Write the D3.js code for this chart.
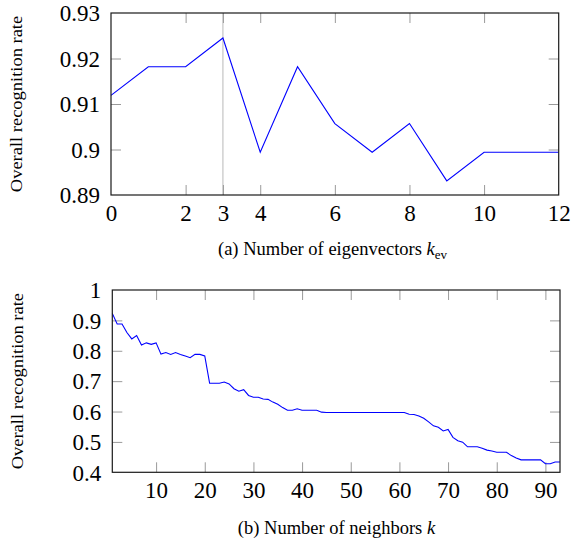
<!DOCTYPE html>
<html>
<head>
<meta charset="utf-8">
<script src="https://cdn.jsdelivr.net/npm/d3@7"></script>
<style>
  html, body { margin: 0; padding: 0; background: #fff; }
  svg { display: block; }
</style>
</head>
<body>
<svg id="chart" width="571" height="545"></svg>
<script>
// ---- Data: panel (a) ----
const eigK = [0, 1, 2, 3, 4, 5, 6, 7, 8, 9, 10, 11, 12];
const eigRate = [0.9119, 0.9182, 0.9182, 0.9245, 0.8994, 0.9182, 0.9057, 0.8994, 0.9057, 0.8931, 0.8994, 0.8994, 0.8994];
const eigXTicks = [0, 2, 3, 4, 6, 8, 10, 12];
const eigYTicks = [0.89, 0.9, 0.91, 0.92, 0.93];
const eigHighlight = [3];

// ---- Data: panel (b) ----
const nbK = [1, 2, 3, 4, 5, 6, 7, 8, 9, 10, 11, 12, 13, 14, 15, 16, 17, 18, 19, 20,
  21, 22, 23, 24, 25, 26, 27, 28, 29, 30, 31, 32, 33, 34, 35, 36, 37, 38, 39, 40,
  41, 42, 43, 44, 45, 46, 47, 48, 49, 50, 51, 52, 53, 54, 55, 56, 57, 58, 59, 60,
  61, 62, 63, 64, 65, 66, 67, 68, 69, 70, 71, 72, 73, 74, 75, 76, 77, 78, 79, 80,
  81, 82, 83, 84, 85, 86, 87, 88, 89, 90, 91, 92, 93];
const nbRate = [0.923, 0.888, 0.888, 0.860, 0.839, 0.850, 0.819, 0.826, 0.821, 0.826,
  0.789, 0.794, 0.788, 0.794, 0.788, 0.783, 0.777, 0.788, 0.788, 0.783,
  0.693, 0.693, 0.693, 0.697, 0.691, 0.675, 0.667, 0.672, 0.653, 0.647,
  0.647, 0.641, 0.640, 0.631, 0.624, 0.613, 0.604, 0.604, 0.609, 0.604,
  0.604, 0.604, 0.604, 0.598, 0.597, 0.597, 0.597, 0.597, 0.597, 0.597,
  0.597, 0.597, 0.597, 0.597, 0.597, 0.597, 0.597, 0.597, 0.597, 0.597,
  0.597, 0.591, 0.590, 0.585, 0.578, 0.566, 0.553, 0.548, 0.536, 0.541,
  0.515, 0.504, 0.499, 0.484, 0.484, 0.484, 0.479, 0.473, 0.470, 0.466,
  0.466, 0.466, 0.455, 0.447, 0.441, 0.441, 0.441, 0.441, 0.441, 0.428,
  0.428, 0.434, 0.434];
const nbXTicks = [10, 20, 30, 40, 50, 60, 70, 80, 90];
const nbYTicks = [0.4, 0.5, 0.6, 0.7, 0.8, 0.9, 1];

const yLabelText = "Overall recognition rate";

const FONT = "'Liberation Serif', 'Times New Roman', Times, 'DejaVu Serif', serif";
const svg = d3.select("#chart");
const fmt = d => String(+d.toFixed(2));
const TICK_COLOR = "#9a9a9a";
const TICK_FONT = 23;

function panel(cfg) {
  const { xs, ys, xDomain, yDomain, left, right, top, bottom, xTicks, yTicks, labelCenterX } = cfg;
  const x = d3.scaleLinear().domain(xDomain).range([left, right]);
  const y = d3.scaleLinear().domain(yDomain).range([bottom, top]);
  const g = svg.append("g");

  (cfg.highlight || []).forEach(v => {
    g.append("line")
      .attr("x1", x(v)).attr("x2", x(v))
      .attr("y1", y(yDomain[0])).attr("y2", y(yDomain[1]))
      .attr("stroke", "#b8b8b8").attr("stroke-width", 1);
  });

  const innerX = xTicks.filter(v => v > xDomain[0] && v < xDomain[1]);
  const innerY = yTicks.filter(v => v > yDomain[0] && v < yDomain[1]);

  const gb = g.append("g").attr("transform", `translate(0,${bottom})`)
    .call(d3.axisBottom(x).tickValues(xTicks).tickSizeInner(-10).tickSizeOuter(0).tickFormat(d => d));
  gb.attr("font-family", FONT);
  gb.selectAll(".tick line").attr("stroke", TICK_COLOR)
    .attr("display", d => innerX.includes(d) ? null : "none");
  gb.selectAll(".tick text").attr("y", 26).attr("dy", 0)
    .style("font-family", FONT)
    .style("font-size", TICK_FONT + "px").attr("fill", "#000");
  gb.select(".domain").remove();

  const gt = g.append("g").attr("transform", `translate(0,${top})`)
    .call(d3.axisTop(x).tickValues(innerX).tickSizeInner(-10).tickSizeOuter(0).tickFormat(""));
  gt.selectAll(".tick line").attr("stroke", TICK_COLOR);
  gt.select(".domain").remove();

  const gl = g.append("g").attr("transform", `translate(${left},0)`)
    .call(d3.axisLeft(y).tickValues(yTicks).tickSizeInner(-10).tickSizeOuter(0).tickFormat(fmt));
  gl.attr("font-family", FONT);
  gl.selectAll(".tick line").attr("stroke", TICK_COLOR)
    .attr("display", d => innerY.includes(d) ? null : "none");
  gl.selectAll(".tick text").attr("x", -11).attr("dy", "0.34em")
    .style("font-family", FONT)
    .style("font-size", TICK_FONT + "px").attr("fill", "#000");
  gl.select(".domain").remove();

  const gr = g.append("g").attr("transform", `translate(${right},0)`)
    .call(d3.axisRight(y).tickValues(innerY).tickSizeInner(-10).tickSizeOuter(0).tickFormat(""));
  gr.selectAll(".tick line").attr("stroke", TICK_COLOR);
  gr.select(".domain").remove();

  const data = xs.map((v, i) => [v, ys[i]]);
  g.append("path").datum(data)
    .attr("fill", "none").attr("stroke", "#0000ff").attr("stroke-width", 1.1)
    .attr("d", d3.line().x(d => x(d[0])).y(d => y(d[1])));

  g.append("rect")
    .attr("x", left).attr("y", top)
    .attr("width", right - left).attr("height", bottom - top)
    .attr("fill", "none").attr("stroke", "#1a1a1a").attr("stroke-width", 1.2);

  g.append("text")
    .attr("transform", `translate(${labelCenterX},${(top + bottom) / 2}) rotate(-90) scale(1.12,1)`)
    .attr("text-anchor", "middle")
    .style("font-family", FONT)
    .style("font-size", "16.5px")
    .text(yLabelText);

  return { x, y };
}

panel({
  xs: eigK, ys: eigRate, xDomain: [0, 12], yDomain: [0.89, 0.93],
  left: 111, right: 558.7, top: 13, bottom: 195,
  xTicks: eigXTicks, yTicks: eigYTicks, highlight: eigHighlight, labelCenterX: 21.5
});

panel({
  xs: nbK, ys: nbRate, xDomain: [1, 93], yDomain: [0.4, 1],
  left: 112.3, right: 560, top: 290, bottom: 472.3,
  xTicks: nbXTicks, yTicks: nbYTicks, labelCenterX: 23
});

const capA = svg.append("text").attr("x", 332.5).attr("y", 255)
  .attr("text-anchor", "middle").style("font-family", FONT).style("font-size", "18.5px");
capA.append("tspan").text("(a) Number of eigenvectors ");
capA.append("tspan").style("font-style", "italic").text("k");
capA.append("tspan").attr("dy", 4).style("font-size", "13px").text("ev");

const capB = svg.append("text").attr("x", 336.5).attr("y", 533.5)
  .attr("text-anchor", "middle").style("font-family", FONT).style("font-size", "18.5px");
capB.append("tspan").text("(b) Number of neighbors ");
capB.append("tspan").style("font-style", "italic").text("k");
</script>
</body>
</html>
